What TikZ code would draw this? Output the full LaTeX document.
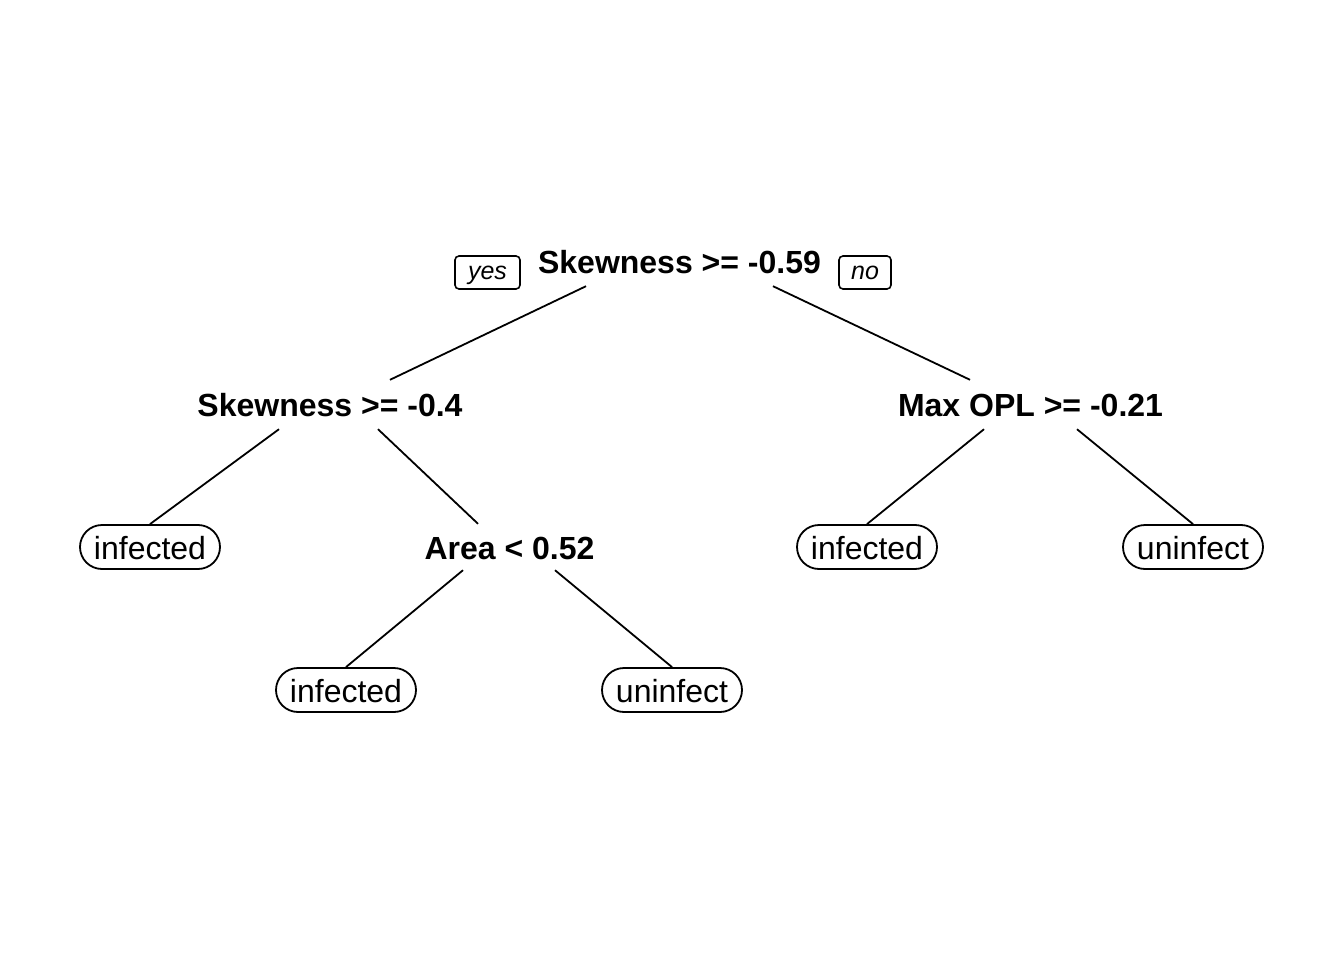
\documentclass[tikz,border=0pt]{standalone}
\usepackage{fontspec}
\setmainfont{Liberation Sans}
\begin{document}
\begin{tikzpicture}[x=1pt,y=-1pt,
  split/.style={font=\bfseries\fontsize{32}{38}\selectfont, anchor=base, inner sep=0pt, text height=36pt, text depth=13pt},
  leaf/.style={font=\fontsize{32}{38}\selectfont, anchor=base, draw, line width=1.8pt, rounded corners=22pt, inner ysep=0pt, text height=34pt, text depth=10pt, minimum width=140pt},
  lab/.style={font=\itshape\fontsize{25}{30}\selectfont, anchor=base, draw, line width=1.6pt, rounded corners=4pt, inner ysep=0pt, text height=23.3pt, text depth=9.7pt},
  branch/.style={line width=1.8pt}]
\useasboundingbox (0,0) rectangle (1344,960);
\node[split] (root) at (679.5,273) {Skewness >= -0.59};
\node[lab, minimum width=65pt] (yes) at (487.5,279.3) {yes};
\node[lab, minimum width=52pt] (no) at (865,279.3) {no};
\node[split] (sl) at (330,416) {Skewness >= -0.4};
\node[split] (sr) at (1030.5,416) {Max OPL >= -0.21};
\node[leaf] (l1) at (150,559) {infected};
\node[split, text height=35pt, text depth=11pt] (area) at (509.5,559) {Area < 0.52};
\node[leaf] (l3) at (867,559) {infected};
\node[leaf] (l4) at (1193,559) {uninfect};
\node[leaf] (l2) at (346,702) {infected};
\node[leaf] (l5) at (672,702) {uninfect};
\draw[branch] ([xshift=-93.5pt]root.south) -- ([xshift=60pt]sl.north);
\draw[branch] ([xshift=93.5pt]root.south) -- ([xshift=-60.5pt]sr.north);
\draw[branch] ([xshift=-51pt]sl.south) -- (l1.north);
\draw[branch] ([xshift=48pt]sl.south) -- ([xshift=-31.5pt]area.north);
\draw[branch] ([xshift=-46.5pt]sr.south) -- (l3.north);
\draw[branch] ([xshift=46.5pt]sr.south) -- (l4.north);
\draw[branch] ([xshift=-46.5pt]area.south) -- (l2.north);
\draw[branch] ([xshift=45.5pt]area.south) -- (l5.north);
\end{tikzpicture}
\end{document}
